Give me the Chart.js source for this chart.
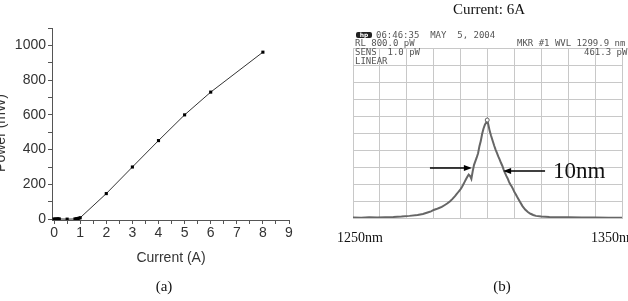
<!DOCTYPE html>
<html>
<head>
<meta charset="utf-8">
<script src="https://cdn.jsdelivr.net/npm/chart.js@4.4.1/dist/chart.umd.min.js"></script>
<style>
  body { margin: 0; width: 628px; height: 301px; overflow: hidden; position: relative; background: #fff; }
  .abs { position: absolute; white-space: pre; }
  .serif { font-family: "Liberation Serif", "Times New Roman", serif; color: #111; }
  .sans { font-family: "Liberation Sans", Arial, sans-serif; color: #333; font-size: 14px; line-height: 16px; }
  .mono { font-family: "DejaVu Sans Mono", monospace; font-size: 9px; line-height: 9px; color: #555; }
  .logo { background: #222; color: #fff; border-radius: 2px; font: bold 6px/6px "DejaVu Sans", sans-serif; width: 16px; height: 6px; text-align: center; }
</style>
</head>
<body>
<canvas id="powerChart" class="abs" style="left:0;top:0" width="320" height="301"></canvas>
<canvas id="spectrumChart" class="abs" style="left:320px;top:0" width="308" height="301"></canvas>

<!-- panel (a) labels -->
<div class="abs sans" style="left:-50px;top:125px;width:100px;text-align:center;transform:rotate(-90deg)">Power (mW)</div>
<div class="abs sans" style="left:121px;top:249px;width:100px;text-align:center">Current (A)</div>
<div class="abs serif" style="left:134px;top:278px;width:60px;text-align:center;font-size:15px;line-height:16px">(a)</div>

<!-- panel (b) labels -->
<div class="abs serif" style="left:429px;top:1px;width:120px;text-align:center;font-size:15px;line-height:16px">Current: 6A</div>
<div class="abs logo" style="left:356px;top:32px">hp</div>
<div class="abs mono" style="left:376px;top:31px">06:46:35  MAY  5, 2004</div>
<div class="abs mono" style="left:355px;top:39px">RL 800.0 pW</div>
<div class="abs mono" style="left:517px;top:39px">MKR #1 WVL 1299.9 nm</div>
<div class="abs mono" style="left:355px;top:48px">SENS  1.0 pW</div>
<div class="abs mono" style="left:584px;top:48px">461.3 pW</div>
<div class="abs mono" style="left:355px;top:57px">LINEAR</div>
<div class="abs serif" style="left:553px;top:158px;font-size:23px;line-height:26px">10nm</div>
<div class="abs serif" style="left:337px;top:230px;font-size:14px;line-height:16px">1250nm</div>
<div class="abs serif" style="left:591px;top:230px;font-size:14px;line-height:16px">1350nm</div>
<div class="abs serif" style="left:472px;top:278px;width:60px;text-align:center;font-size:15px;line-height:16px">(b)</div>

<script>
// (a) output power vs drive current
const currentA = [0, 0.05, 0.1, 0.15, 0.2, 0.5, 0.8, 0.85, 0.9, 0.95, 1, 2, 3, 4, 5, 6, 8];
const powerMW = [1, 0, 1, 2, 1, 0, 1, 2, 3, 5, 8, 147, 300, 452, 600, 731, 961];
const currentTicks = [0, 0.5, 1, 1.5, 2, 2.5, 3, 3.5, 4, 4.5, 5, 5.5, 6, 6.5, 7, 7.5, 8, 8.5, 9];
const powerTicks = [0, 100, 200, 300, 400, 500, 600, 700, 800, 900, 1000, 1100];

// (b) optical spectrum at 6 A
const wavelengthNm = [1250, 1253, 1256, 1259, 1262, 1265, 1268, 1271, 1274, 1276, 1278, 1279, 1280, 1281, 1282,
  1283, 1284, 1285, 1286, 1287, 1288, 1288.5, 1289, 1289.5, 1290, 1290.5, 1291, 1291.5, 1292, 1292.5, 1293,
  1293.5, 1294, 1294.5, 1295, 1295.5, 1296, 1296.5, 1297, 1297.5, 1298, 1298.5, 1299, 1299.5, 1299.9, 1300.3,
  1300.8, 1301.3, 1302, 1302.5, 1303, 1303.5, 1304, 1304.5, 1305, 1305.5, 1306, 1306.5, 1307, 1307.5, 1308,
  1308.5, 1309, 1309.5, 1310, 1310.5, 1311, 1312, 1313, 1314, 1315, 1316, 1317, 1318, 1320, 1323, 1326, 1330,
  1335, 1340, 1345, 1350];
const powerPW = [2, 1, 3, 2, 4, 5, 7, 10, 14, 19, 27, 31, 38, 42, 47,
  52, 60, 68, 78, 90, 104, 112, 120, 128, 136, 146, 158, 170, 182, 194, 204,
  198, 184, 220, 250, 268, 285, 305, 338, 362, 395, 420, 438, 450, 461, 440,
  410, 388, 360, 340, 322, 306, 290, 276, 260, 246, 228, 212, 198, 186, 170,
  158, 148, 136, 122, 112, 100, 78, 56, 40, 28, 20, 14, 10, 7, 5, 4, 3,
  2, 2, 1, 1];
const peakNm = 1299.9;

// arrows marking the 10 nm width: [fromX, toX, y]
const leftArrow = [1278.6, 1294.2, 235];
const rightArrow = [1321.4, 1305.8, 221];

const sansFont = { family: '"Liberation Sans", Arial, sans-serif', size: 14 };

new Chart(document.getElementById('powerChart').getContext('2d'), {
    type: 'line',
    data: {
        datasets: [{
            data: currentA.map((x, i) => ({ x: x, y: powerMW[i] })),
            borderColor: '#333',
            borderWidth: 1,
            pointStyle: 'rect',
            pointRadius: 2.2,
            pointBackgroundColor: '#000',
            pointBorderColor: '#000',
            pointBorderWidth: 0,
        }]
    },
    options: {
        responsive: false,
        animation: false,
        layout: { padding: { left: 0, top: 28, right: 31, bottom: 0 } },
        plugins: { legend: { display: false }, tooltip: { enabled: false } },
        scales: {
            x: {
                type: 'linear',
                min: -0.08,
                max: 9,
                afterFit: (scale) => { scale.height = 81; },
                afterBuildTicks: (scale) => { scale.ticks = currentTicks.map(v => ({ value: v })); },
                ticks: {
                    autoSkip: false,
                    maxRotation: 0,
                    padding: 1,
                    color: '#333',
                    font: sansFont,
                    callback: (v) => Number.isInteger(v) ? v : ''
                },
                grid: { drawOnChartArea: false, tickLength: 4, tickColor: '#555' },
                border: { color: '#555', width: 1 }
            },
            y: {
                min: -5,
                max: 1100,
                afterFit: (scale) => { scale.width = 52; },
                afterBuildTicks: (scale) => { scale.ticks = powerTicks.map(v => ({ value: v })); },
                ticks: {
                    autoSkip: false,
                    padding: 2,
                    color: '#333',
                    font: sansFont,
                    callback: (v) => (v % 200 === 0 && v <= 1000) ? v : ''
                },
                grid: { drawOnChartArea: false, tickLength: 4, tickColor: '#555' },
                border: { color: '#555', width: 1 }
            }
        }
    }
});

// draws the two horizontal arrows through the chart scales
const arrowPlugin = {
    id: 'arrows',
    afterDatasetsDraw(chart) {
        const ctx = chart.ctx;
        const xs = chart.scales.x, ys = chart.scales.y;
        [leftArrow, rightArrow].forEach(a => {
            const x0 = xs.getPixelForValue(a[0]);
            const x1 = xs.getPixelForValue(a[1]);
            const y = ys.getPixelForValue(a[2]);
            const dir = Math.sign(x1 - x0);
            ctx.save();
            ctx.strokeStyle = '#000';
            ctx.fillStyle = '#000';
            ctx.lineWidth = 1.5;
            ctx.beginPath();
            ctx.moveTo(x0, y);
            ctx.lineTo(x1 - dir * 5, y);
            ctx.stroke();
            ctx.beginPath();
            ctx.moveTo(x1, y);
            ctx.lineTo(x1 - dir * 8, y - 3);
            ctx.lineTo(x1 - dir * 8, y + 3);
            ctx.closePath();
            ctx.fill();
            ctx.restore();
        });
    }
};

new Chart(document.getElementById('spectrumChart').getContext('2d'), {
    type: 'line',
    data: {
        datasets: [{
            data: wavelengthNm.map((x, i) => ({ x: x, y: powerPW[i] })),
            borderColor: '#666',
            borderWidth: 2,
            tension: 0,
            pointRadius: (c) => wavelengthNm[c.dataIndex] === peakNm ? 2 : 0,
            pointBackgroundColor: '#fff',
            pointBorderColor: '#666',
            pointBorderWidth: 1,
        }]
    },
    options: {
        responsive: false,
        animation: false,
        layout: { padding: { left: 33, top: 48, right: 6, bottom: 83 } },
        plugins: { legend: { display: false }, tooltip: { enabled: false } },
        scales: {
            x: {
                type: 'linear',
                min: 1250,
                max: 1350,
                ticks: { display: false, stepSize: 10 },
                grid: { color: '#c8c8c8', drawTicks: false },
                border: { color: '#c8c8c8' }
            },
            y: {
                min: 0,
                max: 800,
                ticks: { display: false, stepSize: 80 },
                grid: { color: '#c8c8c8', drawTicks: false },
                border: { color: '#c8c8c8' }
            }
        }
    },
    plugins: [arrowPlugin]
});
</script>
</body>
</html>
